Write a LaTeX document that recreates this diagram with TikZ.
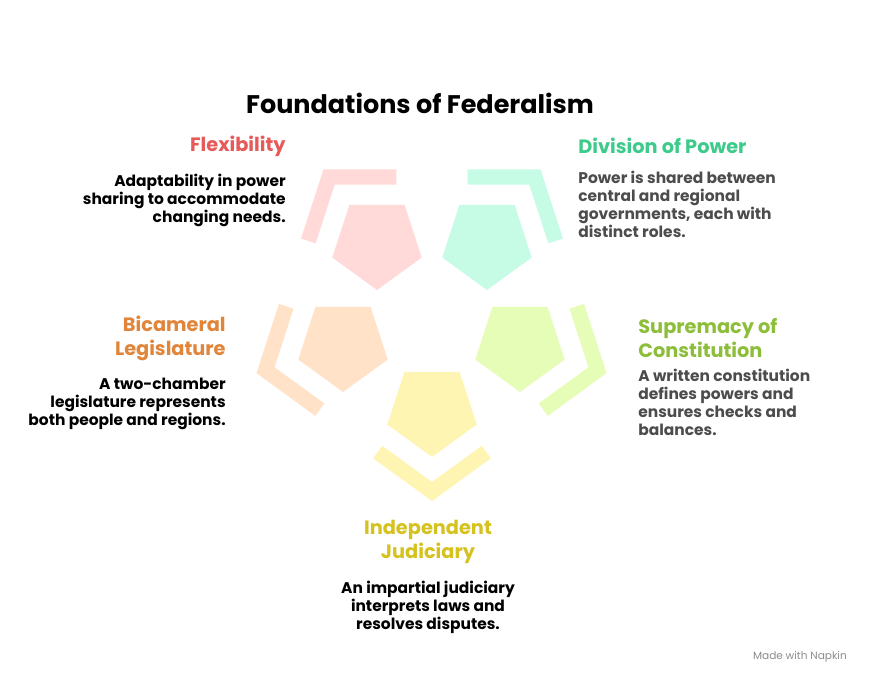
\documentclass[tikz,border=0pt]{standalone}
\usepackage{fontspec}
\setmainfont{Poppins}
\usetikzlibrary{calc}
\definecolor{flexfill}{HTML}{FFDAD8}\definecolor{flextxt}{HTML}{E85A5A}
\definecolor{divfill}{HTML}{C6FCE6}\definecolor{divtxt}{HTML}{3CCB8A}
\definecolor{bicfill}{HTML}{FFE2C8}\definecolor{bictxt}{HTML}{E0853A}
\definecolor{supfill}{HTML}{E6FDB8}\definecolor{suptxt}{HTML}{8DBE3A}
\definecolor{judfill}{HTML}{FFF5B3}\definecolor{judtxt}{HTML}{D6C21E}
\tikzset{
  head/.style={font=\fontsize{11}{13.6}\selectfont\bfseries, inner sep=0pt},
  body/.style={font=\fontsize{8.8}{10.2}\selectfont\bfseries, inner sep=0pt},
}
\begin{document}
\begin{tikzpicture}[x=0.02cm,y=0.02cm]
    \fill[white] (0,0) rectangle (876,684);

    % pentagons with their outer bands
    \foreach \cx/\cy/\a/\col in {377/441/126/flexfill, 487/441/54/divfill, 343/339/198/bicfill, 520/339/-18/supfill, 432/274/-90/judfill}{
      \coordinate (o) at (\cx,\cy);
      \fill[\col] ($(o)+(-90:47)$) -- ($(o)+(-18:47)$) -- ($(o)+(54:47)$) -- ($(o)+(126:47)$) -- ($(o)+(198:47)$) -- cycle;
      \coordinate (vo) at ($(o)+(\a:91)$);
      \coordinate (vi) at ($(o)+(\a:72)$);
      \coordinate (wo1) at ($(o)+(\a+72:91)$);
      \coordinate (wo2) at ($(o)+(\a-72:91)$);
      \coordinate (wi1) at ($(o)+(\a+72:72)$);
      \coordinate (wi2) at ($(o)+(\a-72:72)$);
      \coordinate (po1) at ($(vo)!0.68!(wo1)$);
      \coordinate (po2) at ($(vo)!0.68!(wo2)$);
      \coordinate (pi1) at ($(vi)!(po1)!(wi1)$);
      \coordinate (pi2) at ($(vi)!(po2)!(wi2)$);
      \fill[\col] (po1) -- (vo) -- (po2) -- (pi2) -- (vi) -- (pi1) -- cycle;
    }

    \node[font=\fontsize{14.5}{16}\selectfont\bfseries] (title) at (420,581) {Foundations of Federalism};

    \node[head, text=flextxt, anchor=east] (flexh) at (286,538) {Flexibility};
    \node[body, anchor=north east, align=right] (flexb) at (286,510) {Adaptability in power\\sharing to accommodate\\changing needs.};

    \node[head, text=divtxt, anchor=west] (divh) at (578,538) {Division of Power};
    \node[body, text=black!70, anchor=north west, align=left] (divb) at (578,513) {Power is shared between\\central and regional\\governments, each with\\distinct roles.};

    \node[head, text=bictxt, anchor=east, align=right] (bich) at (226,346) {Bicameral\\Legislature};
    \node[body, anchor=north east, align=right] (bicb) at (226,306) {A two-chamber\\legislature represents\\both people and regions.};

    \node[head, text=suptxt, anchor=west, align=left] (suph) at (638,346) {Supremacy of\\Constitution};
    \node[body, text=black!70, anchor=north west, align=left] (supb) at (638,315) {A written constitution\\defines powers and\\ensures checks and\\balances.};

    \node[head, text=judtxt, align=center] (judh) at (428,142) {Independent\\Judiciary};
    \node[body, anchor=north, align=center] (judb) at (428,103) {An impartial judiciary\\interprets laws and\\resolves disputes.};

    \node[font=\fontsize{6}{7}\selectfont, text=black!45, anchor=east] (made) at (853,27) {Made with Napkin};
\end{tikzpicture}
\end{document}
